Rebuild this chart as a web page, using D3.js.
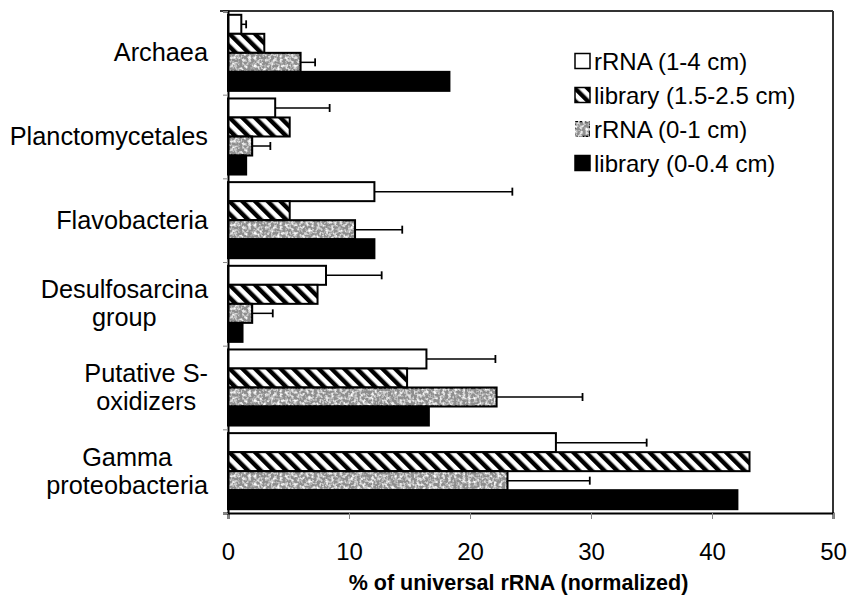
<!DOCTYPE html>
<html>
<head>
<meta charset="utf-8">
<script src="https://cdn.jsdelivr.net/npm/d3@7"></script>
<style>
  html, body { margin: 0; padding: 0; background: #fff; }
  svg { display: block; font-family: "Liberation Sans", Arial, Helvetica, sans-serif; }
</style>
</head>
<body>
<svg id="chart" width="850" height="603"></svg>
<script>
// ---- data ----
const categories = ["Archaea", "Planctomycetales", "Flavobacteria", "Desulfosarcina group", "Putative S-oxidizers", "Gamma proteobacteria"];
const categoryLines = [["Archaea"], ["Planctomycetales"], ["Flavobacteria"], ["Desulfosarcina", "group"], ["Putative S-", "oxidizers"], ["Gamma", "proteobacteria"]];
const seriesNames = ["rRNA (1-4 cm)", "library (1.5-2.5 cm)", "rRNA (0-1 cm)", "library (0-0.4 cm)"];
const rRNA_1_4 = [1.1, 3.9, 12.1, 8.1, 16.4, 27.1];
const rRNA_1_4_err = [0.4, 4.5, 11.4, 4.6, 5.7, 7.5];
const library_15_25 = [3.0, 5.1, 5.1, 7.4, 14.8, 43.1];
const rRNA_0_1 = [6.0, 2.0, 10.5, 2.0, 22.2, 23.1];
const rRNA_0_1_err = [1.2, 1.5, 3.9, 1.7, 7.1, 6.8];
const library_0_04 = [18.3, 1.5, 12.1, 1.2, 16.6, 42.1];
const xTicks = [0, 10, 20, 30, 40, 50];
const xTitle = "% of universal rRNA (normalized)";

const seriesValues = [rRNA_1_4, library_15_25, rRNA_0_1, library_0_04];
const seriesErrors = [rRNA_1_4_err, null, rRNA_0_1_err, null];

// ---- layout ----
const svg = d3.select("#chart");
const pLeft = 228, pRight = 833, pTop = 11, pBottom = 513;

const x = d3.scaleLinear().domain([0, 50]).range([pLeft, pRight]);
const y = d3.scaleBand().domain(categories).range([pTop, pBottom]).paddingInner(0).paddingOuter(0);
const ySub = d3.scaleBand().domain(seriesNames).range([0, y.bandwidth()]).paddingInner(0).paddingOuter(0.2);

// ---- patterns ----
const defs = svg.append("defs");
const hatch = defs.append("pattern").attr("id", "hatch")
  .attr("patternUnits", "userSpaceOnUse").attr("width", 9).attr("height", 9)
  .attr("patternTransform", "rotate(-45)");
hatch.append("rect").attr("width", 9).attr("height", 9).attr("fill", "#fff");
hatch.append("rect").attr("x", 0).attr("y", 0).attr("width", 4.4).attr("height", 9).attr("fill", "#000");

// speckled gray texture via turbulence filter
const filt = defs.append("filter").attr("id", "speckle").attr("x", 0).attr("y", 0).attr("width", 1).attr("height", 1);
filt.append("feTurbulence").attr("type", "fractalNoise").attr("baseFrequency", 0.35).attr("numOctaves", 2).attr("seed", 3).attr("result", "noise");
filt.append("feColorMatrix").attr("in", "noise").attr("type", "matrix")
  .attr("values", "0 0 0 0 1  0 0 0 0 1  0 0 0 0 1  2.6 0 0 0 -1.1").attr("result", "white");
filt.append("feComposite").attr("in", "white").attr("in2", "SourceGraphic").attr("operator", "atop");

const fills = ["#ffffff", "url(#hatch)", "#8e8e8e", "#000000"];

// ---- bars ----
const groups = svg.append("g").selectAll("g").data(categories).join("g")
  .attr("transform", d => `translate(0,${y(d)})`);

seriesNames.forEach((s, si) => {
  groups.append("rect")
    .attr("x", x(0))
    .attr("y", ySub(s))
    .attr("width", (d, i) => x(seriesValues[si][i]) - x(0))
    .attr("height", ySub.bandwidth())
    .attr("fill", fills[si])
    .attr("stroke", "#000").attr("stroke-width", 2)
    .attr("filter", si === 2 ? "url(#speckle)" : null);
  if (si === 2) {
    groups.append("rect")
      .attr("x", x(0))
      .attr("y", ySub(s))
      .attr("width", (d, i) => x(seriesValues[si][i]) - x(0))
      .attr("height", ySub.bandwidth())
      .attr("fill", "none")
      .attr("stroke", "#000").attr("stroke-width", 2);
  }
});

// ---- error bars ----
seriesNames.forEach((s, si) => {
  const errs = seriesErrors[si];
  if (!errs) return;
  const cy = ySub(s) + ySub.bandwidth() / 2;
  groups.append("line")
    .attr("x1", (d, i) => x(seriesValues[si][i]))
    .attr("x2", (d, i) => x(seriesValues[si][i] + errs[i]))
    .attr("y1", cy).attr("y2", cy)
    .attr("stroke", "#000").attr("stroke-width", 1.5);
  groups.append("line")
    .attr("x1", (d, i) => x(seriesValues[si][i] + errs[i]))
    .attr("x2", (d, i) => x(seriesValues[si][i] + errs[i]))
    .attr("y1", cy - 4).attr("y2", cy + 4)
    .attr("stroke", "#000").attr("stroke-width", 1.8);
});

// ---- frame ----
svg.append("line").attr("x1", pLeft - 8).attr("x2", pRight).attr("y1", pTop).attr("y2", pTop)
  .attr("stroke", "#333").attr("stroke-width", 2);
svg.append("line").attr("x1", pRight).attr("x2", pRight).attr("y1", pTop).attr("y2", pBottom)
  .attr("stroke", "#333").attr("stroke-width", 2);

// ---- axes ----
const xAxis = d3.axisBottom(x).tickValues(xTicks).tickSize(6).tickPadding(24).tickFormat(d3.format("d"));
const gx = svg.append("g").attr("transform", `translate(0,${pBottom})`).call(xAxis);
gx.select(".domain").attr("stroke", "#000").attr("stroke-width", 2);
gx.selectAll(".tick line").attr("stroke", "#888").attr("stroke-width", 1);
gx.selectAll(".tick text").attr("font-size", 24).attr("fill", "#000")
  .attr("font-family", "'Liberation Sans', Arial, sans-serif");

const yBound = d3.scaleLinear().domain([0, categories.length]).range([pTop, pBottom]);
const gy = svg.append("g").attr("transform", `translate(${pLeft},0)`)
  .call(d3.axisLeft(yBound).ticks(categories.length).tickSize(5).tickFormat(""));
gy.select(".domain").attr("stroke", "#000").attr("stroke-width", 2);
gy.selectAll(".tick line").attr("stroke", "#888").attr("stroke-width", 1);

// category labels
const labelX = 208;
const labelSize = 25.3;
categories.forEach((c, i) => {
  const lines = categoryLines[i];
  const cy = y(c) + y.bandwidth() / 2;
  const lh = 28;
  const t = svg.append("text")
    .attr("font-size", labelSize).attr("fill", "#000")
    .attr("text-anchor", "end");
  if (lines.length === 1) {
    t.attr("x", labelX).attr("y", cy + 8.5).text(lines[0]);
  } else {
    const tmp = svg.append("text").attr("font-size", labelSize);
    const widths = lines.map(l => { tmp.text(l); return tmp.node().getComputedTextLength(); });
    tmp.remove();
    const w = d3.max(widths);
    const cx = labelX - w / 2;
    t.attr("text-anchor", "middle");
    lines.forEach((l, k) => {
      t.append("tspan").attr("x", cx).attr("y", cy + 8.5 + (k - (lines.length - 1) / 2) * lh).text(l);
    });
  }
});

// x title
svg.append("text").attr("x", 518.5).attr("y", 590)
  .attr("text-anchor", "middle").attr("font-size", 21.5).attr("font-weight", "bold")
  .text(xTitle);

// ---- legend ----
const legend = svg.append("g");
const legY0 = 61, legStep = 34;
seriesNames.forEach((s, si) => {
  const cy = legY0 + si * legStep;
  legend.append("rect").attr("x", 575).attr("y", cy - 7.5).attr("width", 15).attr("height", 15)
    .attr("fill", fills[si]).attr("stroke", "#000").attr("stroke-width", 1.5)
    .attr("filter", si === 2 ? "url(#speckle)" : null);
  legend.append("text").attr("x", 594).attr("y", cy + 8.5).attr("font-size", 24).text(s);
});
</script>
</body>
</html>
